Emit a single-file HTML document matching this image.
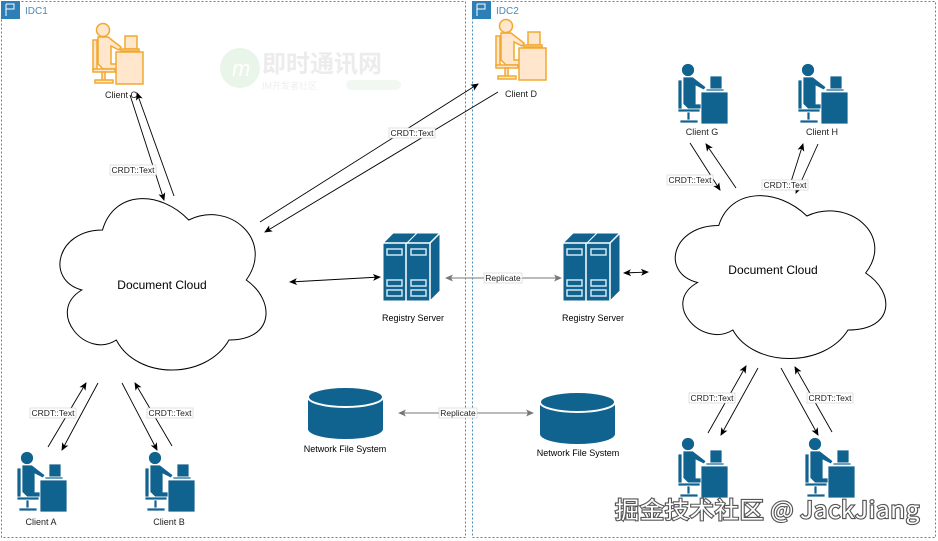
<!DOCTYPE html>
<html><head><meta charset="utf-8"><style>
html,body{margin:0;padding:0;background:#fff;}
svg{display:block;font-family:"Liberation Sans","Noto Sans CJK SC",sans-serif;}
</style></head><body>
<svg width="938" height="541" viewBox="0 0 938 541" xmlns="http://www.w3.org/2000/svg">
<defs>
<marker id="ah" markerWidth="8" markerHeight="8" refX="7" refY="4" orient="auto" markerUnits="userSpaceOnUse"><path d="M0,0.5 L8,4 L0,7.5 L2,4 Z" fill="#000"/></marker>
<marker id="ahs" markerWidth="8" markerHeight="8" refX="1" refY="4" orient="auto" markerUnits="userSpaceOnUse"><path d="M8,0.5 L0,4 L8,7.5 L6,4 Z" fill="#000"/></marker>
<marker id="gh" markerWidth="8" markerHeight="8" refX="7" refY="4" orient="auto" markerUnits="userSpaceOnUse"><path d="M0,0.5 L8,4 L0,7.5 L2,4 Z" fill="#777"/></marker>
<marker id="ghs" markerWidth="8" markerHeight="8" refX="1" refY="4" orient="auto" markerUnits="userSpaceOnUse"><path d="M8,0.5 L0,4 L8,7.5 L6,4 Z" fill="#777"/></marker>
<g id="person">
<circle cx="12" cy="8" r="6.5"/>
<path d="M7,15 L17,15 L30,25 L28,28 L20,24 L20,42 L30,42 L30,47 L12,47 L7,42 Z"/>
<rect x="2" y="18" width="4" height="30"/>
<rect x="2" y="47" width="22" height="3"/>
<rect x="11" y="50" width="3" height="9"/>
<rect x="4" y="58" width="18" height="3"/>
<rect x="25" y="30" width="27" height="32"/>
<rect x="34" y="14" width="12" height="13"/>
<rect x="30" y="27" width="18" height="2"/>
</g>
<g id="server">
<path d="M0,10 L10,0 L57,0 L57,58 L47,68 L0,68 Z" fill="#10628f" stroke="#fff" stroke-width="1"/>
<path d="M0,10 L47,10 L47,68 M23,10 L23,68 M47,10 L57,0" fill="none" stroke="#fff" stroke-width="1.5"/>
<path d="M10,0 L0,10 M34,0 L24,10" stroke="#fff" stroke-width="1"/>
<g fill="none" stroke="#cfe6f2" stroke-width="1.5">
<rect x="4" y="16" width="15" height="6"/><rect x="28" y="16" width="15" height="6"/>
<rect x="4" y="47" width="15" height="6"/><rect x="28" y="47" width="15" height="6"/>
<rect x="4" y="57" width="15" height="6"/><rect x="28" y="57" width="15" height="6"/>
</g>
</g>
<g id="cyl">
<path d="M0,10 L0,42 A37.5,10 0 0 0 75,42 L75,10 Z" fill="#10628f"/>
<ellipse cx="37.5" cy="10" rx="37.5" ry="10" fill="#10628f" stroke="#fff" stroke-width="2"/>
</g>
</defs>

<!-- containers -->
<rect x="1.5" y="1.5" width="464" height="536" fill="none" stroke="#4a8ab8" stroke-width="1" stroke-dasharray="2,2"/>
<rect x="472.5" y="1.5" width="463" height="536" fill="none" stroke="#4a8ab8" stroke-width="1" stroke-dasharray="2,2"/>
<rect x="1" y="1" width="19" height="18" fill="#2d7fb8"/>
<path d="M6,4 L6,16 M6,4 L14,4 L14,9 L6,9" fill="none" stroke="#fff" stroke-width="1"/>
<text x="25" y="14" font-size="10" fill="#4a8ab8">IDC1</text>
<rect x="472" y="1" width="19" height="18" fill="#2d7fb8"/>
<path d="M477,4 L477,16 M477,4 L485,4 L485,9 L477,9" fill="none" stroke="#fff" stroke-width="1"/>
<text x="496" y="14" font-size="10" fill="#4a8ab8">IDC2</text>

<!-- faint watermark -->
<circle cx="240" cy="68" r="20" fill="#eaf5ea"/>
<text x="232" y="76" font-size="22" fill="#fff" font-style="italic">m</text>
<text x="262" y="72" font-size="24" fill="#ececec" font-weight="bold">即时通讯网</text>
<text x="262" y="89" font-size="9" fill="#eeeeee">IM开发者社区</text>
<rect x="346" y="80" width="55" height="10" rx="5" fill="#f1f8f1"/>

<!-- clouds -->
<path transform="translate(45,180) scale(230,200)" vector-effect="non-scaling-stroke" d="M0.25,0.25 C0.05,0.25 0,0.5 0.16,0.55 C0,0.66 0.18,0.9 0.31,0.8 C0.4,1 0.7,1 0.8,0.8 C1,0.8 1,0.6 0.875,0.5 C1,0.3 0.8,0.1 0.625,0.2 C0.5,0.05 0.3,0.05 0.25,0.25 Z" fill="#fff" stroke="#000" stroke-width="1"/>
<text x="162" y="289" font-size="12" text-anchor="middle">Document Cloud</text>
<path transform="translate(660,178) scale(235,190)" vector-effect="non-scaling-stroke" d="M0.25,0.25 C0.05,0.25 0,0.5 0.16,0.55 C0,0.66 0.18,0.9 0.31,0.8 C0.4,1 0.7,1 0.8,0.8 C1,0.8 1,0.6 0.875,0.5 C1,0.3 0.8,0.1 0.625,0.2 C0.5,0.05 0.3,0.05 0.25,0.25 Z" fill="#fff" stroke="#000" stroke-width="1"/>
<text x="773" y="274" font-size="12" text-anchor="middle">Document Cloud</text>

<!-- people -->
<g fill="#10628f" stroke="#fff" stroke-width="0.8">
<use href="#person" x="15" y="450"/>
<use href="#person" x="143" y="450"/>
<use href="#person" x="676" y="62"/>
<use href="#person" x="796" y="62"/>
<use href="#person" x="676" y="436"/>
<use href="#person" x="803" y="436"/>
</g>
<g fill="#ffe6cc" stroke="#f0a830" stroke-width="1.5">
<use href="#person" x="91" y="22"/>
<use href="#person" x="494" y="18"/>
</g>
<g font-size="9" text-anchor="middle" fill="#222">
<text x="41" y="525">Client A</text>
<text x="169" y="525">Client B</text>
<text x="702" y="135">Client G</text>
<text x="822" y="135">Client H</text>
<text x="121" y="98">Client C</text>
<text x="521" y="97">Client D</text>
</g>

<!-- servers & storage -->
<use href="#server" x="383" y="233"/>
<use href="#server" x="563" y="233"/>
<text x="413" y="321" font-size="9" text-anchor="middle">Registry Server</text>
<text x="593" y="321" font-size="9" text-anchor="middle">Registry Server</text>
<use href="#cyl" x="308" y="387"/>
<use href="#cyl" x="540" y="392"/>
<text x="345" y="452" font-size="9" text-anchor="middle">Network File System</text>
<text x="578" y="456" font-size="9" text-anchor="middle">Network File System</text>

<!-- connectors -->
<g stroke="#000" stroke-width="0.9" fill="none">
<line x1="130" y1="95" x2="164" y2="200" marker-end="url(#ah)"/>
<line x1="174" y1="196" x2="137" y2="93" marker-end="url(#ah)"/>
<line x1="260" y1="222" x2="478" y2="84" marker-end="url(#ah)"/>
<line x1="498" y1="92" x2="265" y2="232" marker-end="url(#ah)"/>
<line x1="290" y1="282" x2="380" y2="277" marker-start="url(#ahs)" marker-end="url(#ah)"/>
<line x1="624" y1="273" x2="648" y2="272" marker-start="url(#ahs)" marker-end="url(#ah)"/>
<line x1="48" y1="447" x2="86" y2="383" marker-end="url(#ah)"/>
<line x1="98" y1="383" x2="62" y2="450" marker-end="url(#ah)"/>
<line x1="122" y1="383" x2="157" y2="450" marker-end="url(#ah)"/>
<line x1="172" y1="446" x2="135" y2="383" marker-end="url(#ah)"/>
<line x1="690" y1="143" x2="720" y2="190" marker-end="url(#ah)"/>
<line x1="736" y1="188" x2="706" y2="144" marker-end="url(#ah)"/>
<line x1="789" y1="188" x2="803" y2="144" marker-end="url(#ah)"/>
<line x1="818" y1="144" x2="796" y2="193" marker-end="url(#ah)"/>
<line x1="708" y1="433" x2="746" y2="366" marker-end="url(#ah)"/>
<line x1="758" y1="368" x2="721" y2="435" marker-end="url(#ah)"/>
<line x1="781" y1="368" x2="818" y2="435" marker-end="url(#ah)"/>
<line x1="832" y1="432" x2="795" y2="367" marker-end="url(#ah)"/>
</g>
<g stroke="#777" stroke-width="1" fill="none">
<line x1="446" y1="278" x2="561" y2="278" marker-start="url(#ghs)" marker-end="url(#gh)"/>
<line x1="399" y1="413" x2="533" y2="413" marker-start="url(#ghs)" marker-end="url(#gh)"/>
</g>

<!-- labels -->
<g font-size="8.5" text-anchor="middle" fill="#222">
<rect x="110" y="165" width="46" height="10" fill="#fff" stroke="#ccc" stroke-width="0.6"/><text x="133" y="173">CRDT::Text</text>
<rect x="389" y="128" width="46" height="10" fill="#fff" stroke="#ccc" stroke-width="0.6"/><text x="412" y="136">CRDT::Text</text>
<rect x="30" y="408" width="46" height="10" fill="#fff" stroke="#ccc" stroke-width="0.6"/><text x="53" y="416">CRDT::Text</text>
<rect x="147" y="408" width="46" height="10" fill="#fff" stroke="#ccc" stroke-width="0.6"/><text x="170" y="416">CRDT::Text</text>
<rect x="667" y="175" width="46" height="10" fill="#fff" stroke="#ccc" stroke-width="0.6"/><text x="690" y="183">CRDT::Text</text>
<rect x="762" y="180" width="46" height="10" fill="#fff" stroke="#ccc" stroke-width="0.6"/><text x="785" y="188">CRDT::Text</text>
<rect x="689" y="393" width="46" height="10" fill="#fff" stroke="#ccc" stroke-width="0.6"/><text x="712" y="401">CRDT::Text</text>
<rect x="807" y="393" width="46" height="10" fill="#fff" stroke="#ccc" stroke-width="0.6"/><text x="830" y="401">CRDT::Text</text>
<rect x="484" y="273" width="38" height="10" fill="#fff" stroke="#ccc" stroke-width="0.6"/><text x="503" y="281">Replicate</text>
<rect x="439" y="408" width="38" height="10" fill="#fff" stroke="#ccc" stroke-width="0.6"/><text x="458" y="416">Replicate</text>
</g>

<!-- bottom watermark -->
<text x="615" y="518" font-size="23" letter-spacing="0.6" textLength="305" lengthAdjust="spacingAndGlyphs" fill="#fff" stroke="#555" stroke-width="2.2" paint-order="stroke" font-family="'Noto Sans CJK SC','Liberation Sans',sans-serif">掘金技术社区 @ JackJiang</text>
</svg>
</body></html>
